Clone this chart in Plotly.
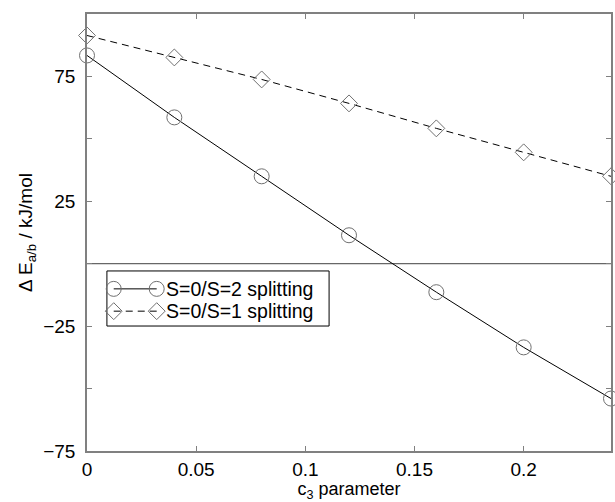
import plotly.graph_objects as go

# Data
c3 = [0.0, 0.04, 0.08, 0.12, 0.16, 0.20, 0.24]
s2_split = [83.4, 58.6, 35.0, 11.4, -11.4, -33.5, -54.0]
s1_split = [91.4, 82.6, 73.8, 64.2, 54.2, 44.6, 35.0]
series_names = ["S=0/S=2 splitting", "S=0/S=1 splitting"]
x_ticks = [0, 0.05, 0.1, 0.15, 0.2]
x_ticklabels = ["0", "0.05", "0.1", "0.15", "0.2"]
y_ticks = [-75, -25, 25, 75]
y_ticklabels = ["\u221275", "\u221225", "25", "75"]
y_minor = [-50, 0, 50, 100]

FONT = "Liberation Sans, Arial, sans-serif"
AX = "#808080"
MK = "#707070"

fig = go.Figure()
fig.add_trace(go.Scatter(
    x=c3, y=s2_split, mode="lines+markers", name=series_names[0],
    line=dict(color="black", width=1),
    marker=dict(symbol="circle-open", size=15, color=MK, line=dict(width=1, color=MK)),
    cliponaxis=False, showlegend=False))
fig.add_trace(go.Scatter(
    x=c3, y=s1_split, mode="lines+markers", name=series_names[1],
    line=dict(color="black", width=1, dash="7px,5px"),
    marker=dict(symbol="diamond-open", size=13, color=MK, line=dict(width=1, color=MK)),
    cliponaxis=False, showlegend=False))

# Custom legend drawn on an overlay axis (0..1 over plot area)
leg_rows = [0.371, 0.320]
fig.add_trace(go.Scatter(
    x=[0.051, 0.133], y=[leg_rows[0]] * 2, mode="lines+markers", xaxis="x2", yaxis="y2",
    line=dict(color="black", width=1),
    marker=dict(symbol="circle-open", size=15, color=MK, line=dict(width=1, color=MK)),
    showlegend=False, hoverinfo="skip"))
fig.add_trace(go.Scatter(
    x=[0.051, 0.133], y=[leg_rows[1]] * 2, mode="lines+markers", xaxis="x2", yaxis="y2",
    line=dict(color="black", width=1, dash="7px,5px"),
    marker=dict(symbol="diamond-open", size=13, color=MK, line=dict(width=1, color=MK)),
    showlegend=False, hoverinfo="skip"))
for name, yr in zip(series_names, leg_rows):
    fig.add_annotation(x=0.146, y=yr, xref="x2", yref="y2", text=name, showarrow=False,
                       xanchor="left", yanchor="middle", font=dict(family=FONT, size=19.5, color="black"))

fig.add_shape(type="rect", xref="x2", yref="y2", x0=0.038, x1=0.462, y0=0.286, y1=0.412,
              line=dict(color="black", width=1), fillcolor="white", layer="below")
# zero line
fig.add_shape(type="line", xref="x domain", yref="y", x0=0, x1=1, y0=0, y1=0,
              line=dict(color="#404040", width=1), layer="below")

fig.update_layout(
    width=615, height=502,
    margin=dict(l=87, r=2, t=14, b=51),
    plot_bgcolor="white", paper_bgcolor="white",
    font=dict(family=FONT, size=19, color="black"),
    showlegend=False,
    xaxis=dict(range=[0, 0.24], tickvals=x_ticks, ticktext=x_ticklabels,
               ticks="inside", ticklen=5, tickcolor=AX, tickwidth=1,
               showline=True, linecolor=AX, linewidth=1.5, mirror="ticks",
               showgrid=False, zeroline=False, tickfont=dict(size=19),
               title=dict(text="c<sub>3</sub> parameter", standoff=4, font=dict(size=18))),
    yaxis=dict(range=[-75, 100], tickvals=y_ticks, ticktext=y_ticklabels,
               ticks="inside", ticklen=5, tickcolor=AX, tickwidth=1,
               minor=dict(tickvals=y_minor, ticks="inside", ticklen=5, tickcolor=AX, tickwidth=1),
               showline=True, linecolor=AX, linewidth=1.5, mirror="ticks",
               showgrid=False, zeroline=False, tickfont=dict(size=19), ticklabelstandoff=6,
               title=dict(text="\u0394 E<sub>a/b</sub> / kJ/mol", standoff=6, font=dict(size=19))),
    xaxis2=dict(overlaying="x", range=[0, 1], visible=False, fixedrange=True),
    yaxis2=dict(overlaying="y", range=[0, 1], visible=False, fixedrange=True),
)

fig.write_html("out.html", config={"displayModeBar": False},
               post_script="document.body.style.margin='0';document.body.style.overflow='hidden';")
